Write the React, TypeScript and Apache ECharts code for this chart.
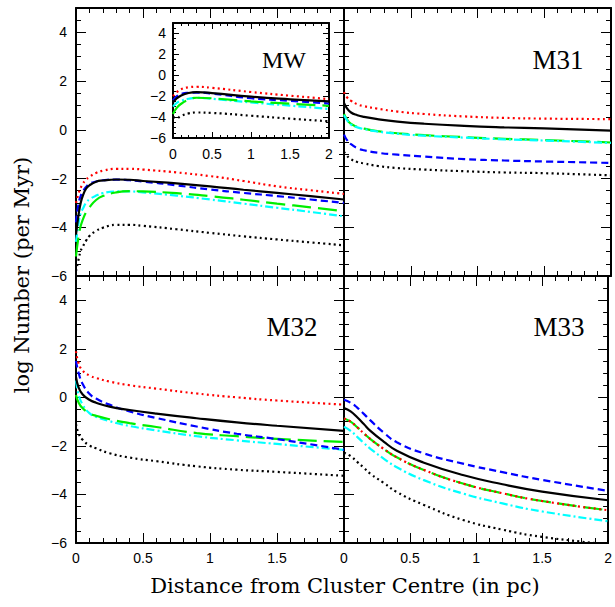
import React, { useEffect, useRef } from 'react';
import * as echarts from 'echarts';

// ---------- data ----------
const X_MW = [0, 0.02, 0.035, 0.05, 0.075, 0.1, 0.15, 0.2, 0.3, 0.4, 0.5, 0.75, 1.0, 1.25, 1.5, 1.75, 2.0];
const MW_RED = [-3.0, -2.6, -2.38, -2.22, -2.05, -1.93, -1.77, -1.68, -1.6, -1.6, -1.63, -1.75, -1.9, -2.1, -2.32, -2.48, -2.63];
const MW_BLACK = [-4.3, -3.45, -3.0, -2.72, -2.42, -2.28, -2.13, -2.08, -2.04, -2.05, -2.1, -2.2, -2.32, -2.46, -2.59, -2.72, -2.86];
const MW_BLUE = [-3.8, -3.0, -2.72, -2.55, -2.35, -2.22, -2.12, -2.07, -2.04, -2.07, -2.12, -2.28, -2.45, -2.59, -2.72, -2.86, -3.0];
const MW_GREEN = [-5.2, -4.35, -3.95, -3.7, -3.38, -3.18, -2.88, -2.72, -2.57, -2.52, -2.53, -2.6, -2.72, -2.87, -3.03, -3.18, -3.34];
const MW_CYAN = [-4.6, -3.8, -3.42, -3.25, -3.0, -2.86, -2.7, -2.6, -2.53, -2.53, -2.57, -2.7, -2.86, -3.03, -3.2, -3.37, -3.55];
const MW_BDOT = [-5.8, -5.3, -4.97, -4.8, -4.55, -4.36, -4.15, -4.02, -3.9, -3.9, -3.94, -4.08, -4.23, -4.37, -4.5, -4.62, -4.74];

const X_IN = [0, 0.05, 0.1, 0.2, 0.3, 0.5, 1.0, 1.5, 2.0];
const IN_RED = [-2.0, -1.6, -1.35, -1.15, -1.1, -1.2, -1.6, -1.95, -2.28];
const IN_BLACK = [-2.6, -2.2, -1.95, -1.7, -1.62, -1.7, -2.05, -2.3, -2.5];
const IN_BLUE = [-2.4, -2.0, -1.8, -1.68, -1.65, -1.75, -2.2, -2.45, -2.7];
const IN_GREEN = [-3.7, -3.1, -2.75, -2.35, -2.15, -2.2, -2.5, -2.72, -2.92];
const IN_CYAN = [-3.0, -2.65, -2.45, -2.25, -2.15, -2.25, -2.6, -2.9, -3.22];
const IN_BDOT = [-4.0, -4.1, -3.9, -3.65, -3.56, -3.6, -3.87, -4.15, -4.4];

const X_M31 = [0, 0.02, 0.05, 0.1, 0.15, 0.25, 0.4, 0.6, 0.9, 1.2, 1.5, 2.0];
const M31_RED = [1.55, 1.35, 1.2, 1.05, 0.97, 0.87, 0.75, 0.65, 0.55, 0.49, 0.46, 0.44];
const M31_BLACK = [1.1, 0.9, 0.72, 0.6, 0.53, 0.44, 0.34, 0.25, 0.16, 0.1, 0.06, -0.03];
const M31_BLUE = [-0.2, -0.4, -0.58, -0.75, -0.84, -0.94, -1.02, -1.1, -1.2, -1.26, -1.3, -1.36];
const M31_GREEN = [0.65, 0.45, 0.25, 0.12, 0.05, -0.05, -0.14, -0.22, -0.3, -0.37, -0.42, -0.52];
const M31_CYAN = [0.6, 0.42, 0.22, 0.1, 0.03, -0.07, -0.16, -0.24, -0.32, -0.39, -0.44, -0.54];
const M31_BDOT = [-0.9, -1.05, -1.2, -1.32, -1.38, -1.48, -1.57, -1.63, -1.7, -1.75, -1.78, -1.87];

const X_M32 = [0, 0.02, 0.05, 0.1, 0.15, 0.25, 0.4, 0.6, 0.9, 1.2, 1.5, 2.0];
const M32_RED = [1.9, 1.4, 1.1, 0.9, 0.8, 0.65, 0.5, 0.36, 0.16, 0.0, -0.13, -0.3];
const M32_BLACK = [0.83, 0.4, 0.12, -0.1, -0.22, -0.38, -0.52, -0.67, -0.86, -1.03, -1.17, -1.38];
const M32_BLUE = [1.5, 1.0, 0.55, 0.15, -0.05, -0.3, -0.58, -0.85, -1.2, -1.5, -1.72, -2.16];
const M32_GREEN = [0.1, -0.22, -0.45, -0.65, -0.76, -0.9, -1.06, -1.22, -1.47, -1.6, -1.71, -1.84];
const M32_CYAN = [0.7, 0.1, -0.3, -0.65, -0.8, -0.98, -1.18, -1.36, -1.6, -1.77, -1.92, -2.16];
const M32_BDOT = [-1.1, -1.5, -1.75, -1.98, -2.1, -2.3, -2.48, -2.63, -2.84, -2.98, -3.07, -3.23];

const X_M33 = [0, 0.05, 0.1, 0.15, 0.2, 0.3, 0.4, 0.6, 0.9, 1.2, 1.5, 2.0];
const M33_RED = [-0.87, -1.0, -1.23, -1.48, -1.72, -2.12, -2.47, -2.98, -3.55, -3.95, -4.27, -4.65];
const M33_BLACK = [-0.44, -0.58, -0.82, -1.1, -1.38, -1.82, -2.2, -2.68, -3.2, -3.58, -3.88, -4.24];
const M33_BLUE = [-0.1, -0.22, -0.42, -0.68, -0.95, -1.45, -1.85, -2.3, -2.73, -3.08, -3.4, -3.85];
const M33_GREEN = [-0.87, -1.0, -1.23, -1.48, -1.72, -2.12, -2.47, -2.98, -3.55, -3.95, -4.27, -4.65];
const M33_CYAN = [-1.21, -1.38, -1.63, -1.88, -2.12, -2.52, -2.88, -3.4, -3.96, -4.37, -4.7, -5.1];
const M33_BDOT = [-2.28, -2.42, -2.66, -2.9, -3.15, -3.52, -3.9, -4.42, -5.05, -5.45, -5.75, -6.05];

const PANEL_NAMES = ['MW', 'M31', 'M32', 'M33'];
const X_TITLE = 'Distance from Cluster Centre (in pc)';
const Y_TITLE = 'log Number (per Myr)';

// ---------- styles / layout ----------
const LS: Record<string, any> = {
  red: { color: '#ff0000', type: [2, 3.3] },
  black: { color: '#000000', type: 'solid' },
  blue: { color: '#0000ff', type: [7, 4] },
  green: { color: '#00ee00', type: [19, 7] },
  cyan: { color: '#00ffff', type: [8, 3, 2, 3] },
  bdot: { color: '#000000', type: [2, 3.3] },
};

const GRIDS = [
  { left: 76, top: 8, width: 268, height: 268 },
  { left: 344, top: 8, width: 267, height: 268 },
  { left: 76, top: 276, width: 268, height: 267 },
  { left: 344, top: 276, width: 267, height: 267 },
  { left: 173, top: 23, width: 156, height: 115 },
];

const LABELS = [
  { x: false, hideX2: false, y: true },
  { x: false, hideX2: false, y: false },
  { x: true, hideX2: true, y: true },
  { x: true, hideX2: false, y: false },
  { x: true, hideX2: false, y: true },
];

const fmt = (v: number) => String(v).replace('-', '\u2212');

function buildAxes() {
  const xAxis: any[] = [];
  const yAxis: any[] = [];
  GRIDS.forEach((_, g) => {
    const inset = g === 4;
    const majL = inset ? 6 : 10;
    const minL = inset ? 3 : 5;
    const lab = LABELS[g];
    const labelFont = { fontFamily: 'Liberation Sans', fontSize: 14, color: '#000' };
    ['bottom', 'top'].forEach((pos) => {
      const showLab = pos === 'bottom' && lab.x;
      xAxis.push({
        type: 'value', gridIndex: g, position: pos, min: 0, max: 2, interval: 0.5,
        splitLine: { show: false },
        axisLine: { show: true, onZero: false, lineStyle: { color: '#000', width: 2 } },
        axisTick: { show: true, inside: true, length: majL, lineStyle: { color: '#000', width: 1 } },
        axisLabel: {
          show: showLab, margin: inset ? 9 : 8, ...labelFont,
          formatter: (v: number) => (lab.hideX2 && v === 2 ? '' : fmt(v)),
        },
      });
      xAxis.push({
        type: 'value', gridIndex: g, position: pos, min: 0, max: 2, interval: 0.1,
        splitLine: { show: false },
        axisLine: { show: false, onZero: false },
        axisTick: { show: true, inside: true, length: minL, lineStyle: { color: '#000', width: 1 } },
        axisLabel: { show: false },
      });
    });
    ['left', 'right'].forEach((pos) => {
      const showLab = pos === 'left' && lab.y;
      yAxis.push({
        type: 'value', gridIndex: g, position: pos, min: -6, max: 5, interval: 2,
        splitLine: { show: false },
        axisLine: { show: true, onZero: false, lineStyle: { color: '#000', width: 2 } },
        axisTick: { show: true, inside: true, length: majL, lineStyle: { color: '#000', width: 1 } },
        axisLabel: {
          show: showLab, margin: inset ? 7 : 9, ...labelFont,
          formatter: (v: number) => (v === 5 ? '' : fmt(v)),
        },
      });
      yAxis.push({
        type: 'value', gridIndex: g, position: pos, min: -6, max: 5, interval: 0.5,
        splitLine: { show: false },
        axisLine: { show: false, onZero: false },
        axisTick: { show: true, inside: true, length: minL, lineStyle: { color: '#000', width: 1 } },
        axisLabel: { show: false },
      });
    });
  });
  return { xAxis, yAxis };
}

function lines(g: number, xs: number[], sets: [number[], string][]) {
  return sets.map(([vals, key]) => ({
    type: 'line',
    xAxisIndex: g * 4,
    yAxisIndex: g * 4,
    data: xs.map((x, i) => [x, vals[i]]),
    symbol: 'none',
    showSymbol: false,
    smooth: 0.5,
    clip: true,
    silent: true,
    z: 3,
    lineStyle: { width: 2.2, cap: 'butt', color: LS[key].color, type: LS[key].type },
  }));
}

export default function App() {
  const ref = useRef<HTMLDivElement>(null);
  useEffect(() => {
    if (!ref.current) return;
    const chart = echarts.init(ref.current, null, { renderer: 'svg' });
    const { xAxis, yAxis } = buildAxes();
    const series = [
      ...lines(0, X_MW, [[MW_BDOT, 'bdot'], [MW_CYAN, 'cyan'], [MW_GREEN, 'green'], [MW_BLUE, 'blue'], [MW_BLACK, 'black'], [MW_RED, 'red']]),
      ...lines(1, X_M31, [[M31_BDOT, 'bdot'], [M31_BLUE, 'blue'], [M31_GREEN, 'green'], [M31_CYAN, 'cyan'], [M31_BLACK, 'black'], [M31_RED, 'red']]),
      ...lines(2, X_M32, [[M32_BDOT, 'bdot'], [M32_CYAN, 'cyan'], [M32_GREEN, 'green'], [M32_BLUE, 'blue'], [M32_BLACK, 'black'], [M32_RED, 'red']]),
      ...lines(3, X_M33, [[M33_BDOT, 'bdot'], [M33_CYAN, 'cyan'], [M33_GREEN, 'green'], [M33_BLUE, 'blue'], [M33_BLACK, 'black'], [M33_RED, 'red']]),
      ...lines(4, X_IN, [[IN_BDOT, 'bdot'], [IN_CYAN, 'cyan'], [IN_GREEN, 'green'], [IN_BLUE, 'blue'], [IN_BLACK, 'black'], [IN_RED, 'red']]),
    ];
    const serif = 'Liberation Serif';
    const txt = (text: string, x: number, y: number, size: number, family: string, rotation = 0) => ({
      type: 'text', x, y, rotation, z: 10, silent: true,
      style: {
        text, fontFamily: family, fontSize: size, fontWeight: 'normal', fill: '#000',
        align: 'center', verticalAlign: 'middle', textAlign: 'center', textVerticalAlign: 'middle',
      },
    });
    chart.setOption({
      animation: false,
      backgroundColor: '#ffffff',
      grid: GRIDS.map((r) => ({ ...r, containLabel: false, show: false })),
      xAxis,
      yAxis,
      series,
      graphic: [
        txt(PANEL_NAMES[0], 284, 60, 24, serif),
        txt(PANEL_NAMES[1], 558, 60, 27, serif),
        txt(PANEL_NAMES[2], 292, 327, 27, serif),
        txt(PANEL_NAMES[3], 559, 327, 27, serif),
        txt(X_TITLE, 345, 586, 21, 'DejaVu Serif'),
        txt(Y_TITLE, 22, 275, 21, 'DejaVu Serif', Math.PI / 2),
      ],
    });
    return () => chart.dispose();
  }, []);
  return (
    <div
      ref={ref}
      style={{ position: 'fixed', left: 0, top: 0, width: 615, height: 607, background: '#fff' }}
    />
  );
}
